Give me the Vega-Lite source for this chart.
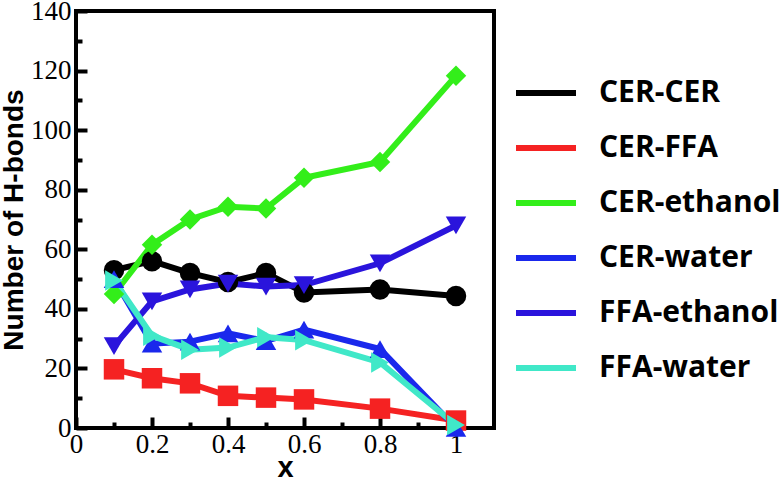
{
  "$schema": "https://vega.github.io/schema/vega-lite/v6.json",
  "width": 418,
  "height": 417,
  "autosize": {"type": "none"},
  "padding": {"left": 76, "top": 11, "right": 285, "bottom": 49},
  "background": "white",
  "config": {
    "view": {"stroke": "black", "strokeWidth": 4},
    "axis": {"grid": false, "domain": false, "tickColor": "black", "tickWidth": 4, "labelColor": "black", "titleColor": "black"}
  },
  "data": {
    "values": [
      {"x": 0.1, "y": 53, "series": "CER-CER"},
      {"x": 0.2, "y": 56, "series": "CER-CER"},
      {"x": 0.3, "y": 52, "series": "CER-CER"},
      {"x": 0.4, "y": 49, "series": "CER-CER"},
      {"x": 0.5, "y": 52, "series": "CER-CER"},
      {"x": 0.6, "y": 45.5, "series": "CER-CER"},
      {"x": 0.8, "y": 46.5, "series": "CER-CER"},
      {"x": 1.0, "y": 44.3, "series": "CER-CER"},
      {"x": 0.1, "y": 19.7, "series": "CER-FFA"},
      {"x": 0.2, "y": 16.7, "series": "CER-FFA"},
      {"x": 0.3, "y": 15, "series": "CER-FFA"},
      {"x": 0.4, "y": 10.8, "series": "CER-FFA"},
      {"x": 0.5, "y": 10.2, "series": "CER-FFA"},
      {"x": 0.6, "y": 9.6, "series": "CER-FFA"},
      {"x": 0.8, "y": 6.5, "series": "CER-FFA"},
      {"x": 1.0, "y": 2.5, "series": "CER-FFA"},
      {"x": 0.1, "y": 45, "series": "CER-ethanol"},
      {"x": 0.2, "y": 61.5, "series": "CER-ethanol"},
      {"x": 0.3, "y": 70, "series": "CER-ethanol"},
      {"x": 0.4, "y": 74.3, "series": "CER-ethanol"},
      {"x": 0.5, "y": 73.7, "series": "CER-ethanol"},
      {"x": 0.6, "y": 84, "series": "CER-ethanol"},
      {"x": 0.8, "y": 89.3, "series": "CER-ethanol"},
      {"x": 1.0, "y": 118.3, "series": "CER-ethanol"},
      {"x": 0.1, "y": 50, "series": "CER-water"},
      {"x": 0.2, "y": 28.3, "series": "CER-water"},
      {"x": 0.3, "y": 29, "series": "CER-water"},
      {"x": 0.4, "y": 31.8, "series": "CER-water"},
      {"x": 0.5, "y": 29.2, "series": "CER-water"},
      {"x": 0.6, "y": 33, "series": "CER-water"},
      {"x": 0.8, "y": 26.5, "series": "CER-water"},
      {"x": 1.0, "y": 0, "series": "CER-water"},
      {"x": 0.1, "y": 27.5, "series": "FFA-ethanol"},
      {"x": 0.2, "y": 42.5, "series": "FFA-ethanol"},
      {"x": 0.3, "y": 46.5, "series": "FFA-ethanol"},
      {"x": 0.4, "y": 48.5, "series": "FFA-ethanol"},
      {"x": 0.5, "y": 47.5, "series": "FFA-ethanol"},
      {"x": 0.6, "y": 48, "series": "FFA-ethanol"},
      {"x": 0.8, "y": 55.3, "series": "FFA-ethanol"},
      {"x": 1.0, "y": 68, "series": "FFA-ethanol"},
      {"x": 0.1, "y": 49.5, "series": "FFA-water"},
      {"x": 0.2, "y": 31, "series": "FFA-water"},
      {"x": 0.3, "y": 26.3, "series": "FFA-water"},
      {"x": 0.4, "y": 27, "series": "FFA-water"},
      {"x": 0.5, "y": 30.5, "series": "FFA-water"},
      {"x": 0.6, "y": 29.5, "series": "FFA-water"},
      {"x": 0.8, "y": 22, "series": "FFA-water"},
      {"x": 1.0, "y": 1, "series": "FFA-water"}
    ]
  },
  "encoding": {
    "x": {
      "field": "x", "type": "quantitative",
      "scale": {"domain": [0, 1.1], "nice": false, "zero": false},
      "axis": {
        "title": "x",
        "values": [0, 0.1, 0.2, 0.3, 0.4, 0.5, 0.6, 0.7, 0.8, 0.9, 1.0],
        "format": "~g",
        "labelExpr": "(abs(datum.value*10 - round(datum.value*10)) < 0.01 && round(datum.value*10) % 2 == 0) ? datum.label : ''",
        "tickSize": {"condition": {"test": "round(datum.value*10) % 2 == 0", "value": -11}, "value": -6},
        "labelFont": "Liberation Serif", "labelFontSize": 27, "labelPadding": 14,
        "labelFlush": false, "labelOverlap": false,
        "titleFont": "Liberation Sans", "titleFontWeight": "bold", "titleFontSize": 29, "titlePadding": -9
      }
    },
    "y": {
      "field": "y", "type": "quantitative",
      "scale": {"domain": [0, 140], "nice": false},
      "axis": {
        "title": "Number of H-bonds",
        "values": [0, 10, 20, 30, 40, 50, 60, 70, 80, 90, 100, 110, 120, 130, 140],
        "labelExpr": "datum.value % 20 == 0 ? datum.label : ''",
        "tickSize": {"condition": {"test": "datum.value % 20 == 0", "value": -11}, "value": -6},
        "labelFont": "Liberation Serif", "labelFontSize": 27, "labelPadding": 16,
        "labelFlush": false, "labelOverlap": false,
        "titleFont": "Liberation Sans", "titleFontWeight": "bold", "titleFontSize": 28, "titlePadding": 2
      }
    }
  },
  "resolve": {"legend": {"color": "independent", "fill": "independent", "shape": "independent"}},
  "layer": [
    {
      "mark": {"type": "line", "strokeWidth": 6, "clip": false},
      "encoding": {
        "color": {
          "field": "series", "type": "nominal",
          "scale": {
            "domain": ["CER-CER", "CER-FFA", "CER-ethanol", "CER-water", "FFA-ethanol", "FFA-water"],
            "range": ["#000000", "#f52222", "#33ee1a", "#1a28ec", "#2a14dc", "#40e8c8"]
          },
          "legend": {
            "title": null, "orient": "none", "legendX": 437, "legendY": 49,
            "symbolType": "stroke", "symbolSize": 3600, "symbolStrokeWidth": 6,
            "labelFont": "Open Sans", "labelFontWeight": "bold", "labelFontSize": 30, "labelColor": "black",
            "labelOffset": 20, "rowPadding": 7, "padding": 0, "labelLimit": 400
          }
        }
      }
    },
    {
      "mark": {"type": "point", "filled": true, "opacity": 1, "strokeWidth": 0, "clip": false},
      "encoding": {
        "fill": {
          "field": "series", "type": "nominal",
          "scale": {
            "domain": ["CER-CER", "CER-FFA", "CER-ethanol", "CER-water", "FFA-ethanol", "FFA-water"],
            "range": ["#000000", "#f52222", "#33ee1a", "#1a28ec", "#2a14dc", "#40e8c8"]
          },
          "legend": null
        },
        "shape": {
          "field": "series", "type": "nominal",
          "scale": {
            "domain": ["CER-CER", "CER-FFA", "CER-ethanol", "CER-water", "FFA-ethanol", "FFA-water"],
            "range": ["circle", "square", "diamond", "triangle-up", "triangle-down", "triangle-right"]
          },
          "legend": null
        },
        "size": {"value": 420}
      }
    }
  ]
}
